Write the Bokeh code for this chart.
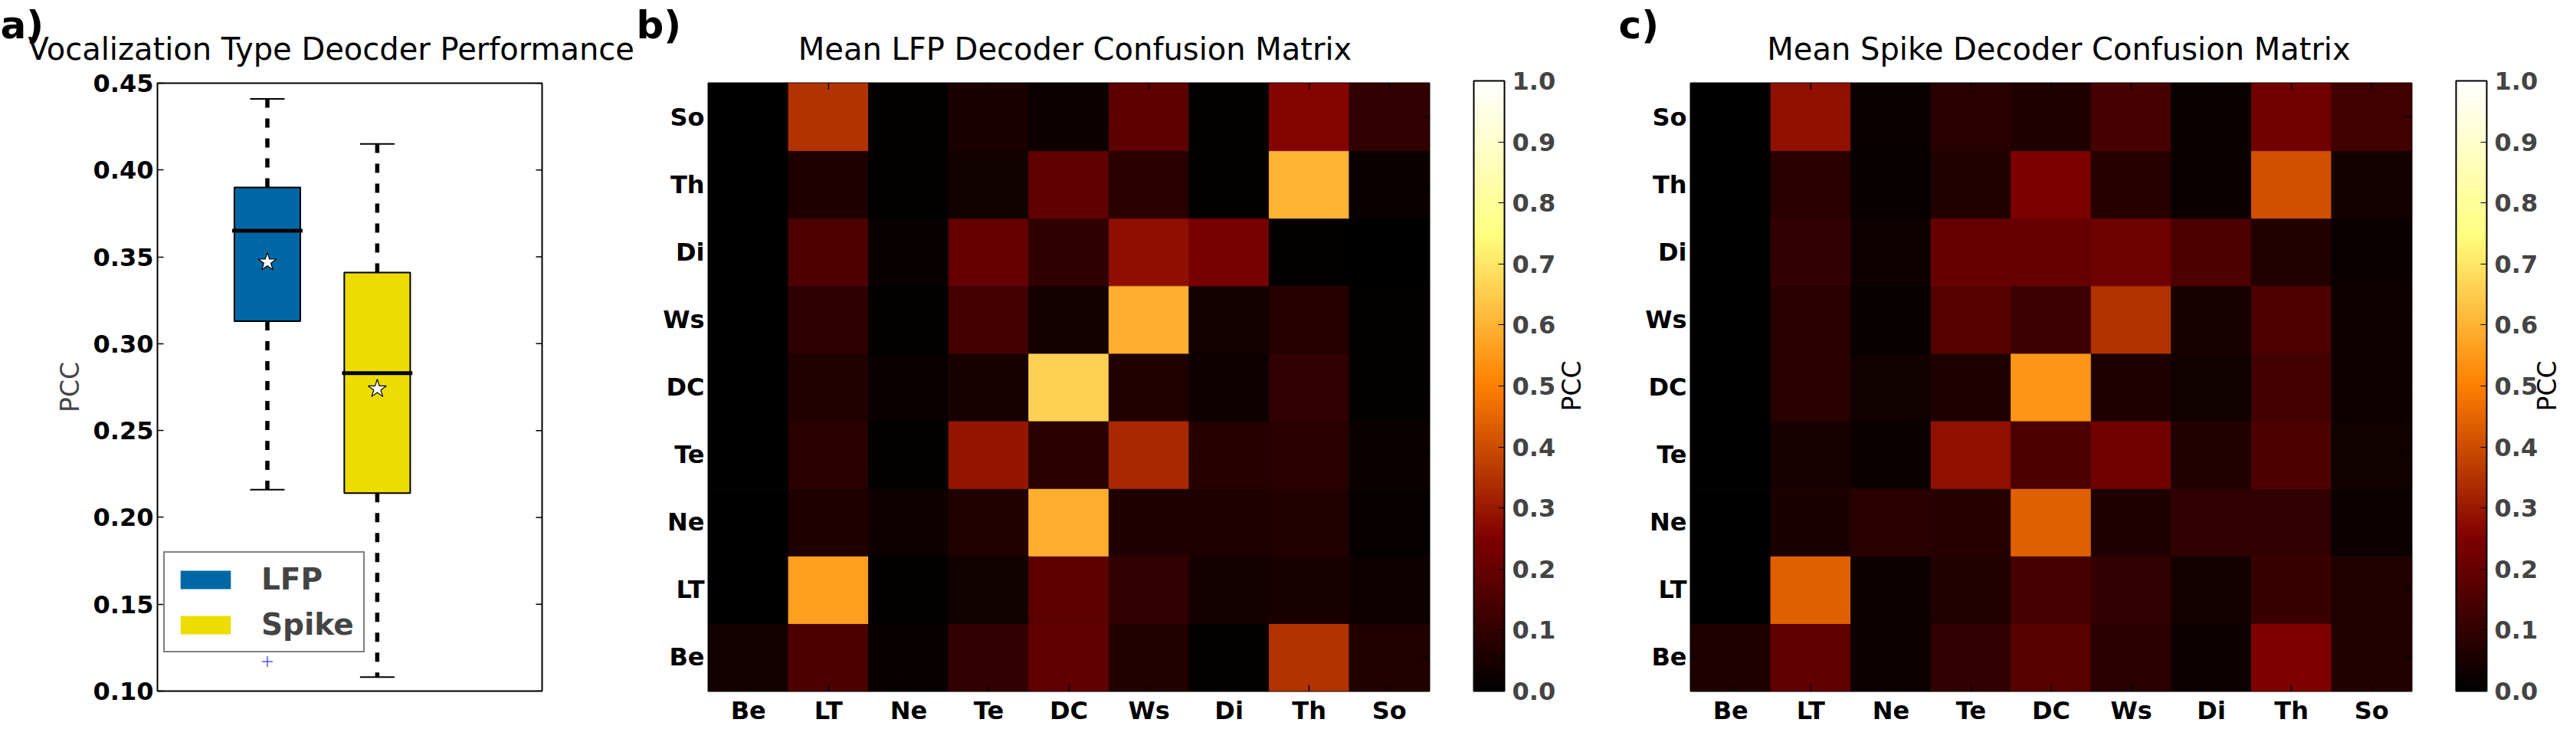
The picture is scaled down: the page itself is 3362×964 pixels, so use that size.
from bokeh.plotting import figure
from bokeh.layouts import row, column
from bokeh.models import (Range1d, FactorRange, FixedTicker, PrintfTickFormatter,
                          ColumnDataSource, ColorBar, LinearColorMapper, Label)
from bokeh.transform import dodge
from bokeh.embed import file_html
from bokeh.resources import INLINE
import math

# ---------------- data ----------------
groups = ["LFP", "Spike"]
positions = [1, 2]
q1 = [0.313, 0.214]
q3 = [0.390, 0.341]
medians = [0.365, 0.283]
means = [0.347, 0.274]
whisker_low = [0.216, 0.108]
whisker_high = [0.441, 0.415]
outlier_x = [1]
outlier_y = [0.117]
box_colors = ["#0067A5", "#EEDC00"]
pcc_ticks = [0.10, 0.15, 0.20, 0.25, 0.30, 0.35, 0.40, 0.45]

call_types = ["Be", "LT", "Ne", "Te", "DC", "Ws", "Di", "Th", "So"]
# rows: true call type; columns: decoded call type (Be ... So)
lfp_Be = [0.04, 0.15, 0.015, 0.10, 0.19, 0.07, 0.01, 0.35, 0.065]
lfp_LT = [0.00, 0.56, 0.01, 0.035, 0.18, 0.10, 0.04, 0.05, 0.03]
lfp_Ne = [0.00, 0.06, 0.03, 0.065, 0.59, 0.06, 0.06, 0.07, 0.015]
lfp_Te = [0.00, 0.08, 0.01, 0.29, 0.08, 0.33, 0.075, 0.08, 0.02]
lfp_DC = [0.00, 0.063, 0.02, 0.05, 0.66, 0.063, 0.03, 0.10, 0.01]
lfp_Ws = [0.00, 0.09, 0.005, 0.13, 0.04, 0.59, 0.04, 0.075, 0.01]
lfp_Di = [0.00, 0.153, 0.016, 0.196, 0.09, 0.28, 0.235, 0.005, 0.00]
lfp_Th = [0.00, 0.06, 0.006, 0.035, 0.19, 0.08, 0.01, 0.60, 0.02]
lfp_So = [0.00, 0.35, 0.01, 0.055, 0.027, 0.18, 0.01, 0.26, 0.10]

spike_Be = [0.06, 0.19, 0.025, 0.10, 0.175, 0.08, 0.025, 0.25, 0.07]
spike_LT = [0.00, 0.44, 0.025, 0.065, 0.14, 0.10, 0.04, 0.115, 0.065]
spike_Ne = [0.00, 0.055, 0.08, 0.075, 0.44, 0.06, 0.095, 0.095, 0.025]
spike_Te = [0.00, 0.05, 0.02, 0.285, 0.15, 0.22, 0.065, 0.15, 0.035]
spike_DC = [0.00, 0.08, 0.035, 0.06, 0.545, 0.06, 0.035, 0.13, 0.03]
spike_Ws = [0.00, 0.08, 0.015, 0.17, 0.12, 0.35, 0.05, 0.155, 0.03]
spike_Di = [0.00, 0.10, 0.03, 0.20, 0.20, 0.215, 0.15, 0.07, 0.02]
spike_Th = [0.00, 0.08, 0.015, 0.065, 0.245, 0.075, 0.02, 0.41, 0.04]
spike_So = [0.00, 0.285, 0.02, 0.08, 0.06, 0.14, 0.02, 0.22, 0.125]

lfp_rows = [lfp_Be, lfp_LT, lfp_Ne, lfp_Te, lfp_DC, lfp_Ws, lfp_Di, lfp_Th, lfp_So]
spike_rows = [spike_Be, spike_LT, spike_Ne, spike_Te, spike_DC, spike_Ws, spike_Di, spike_Th, spike_So]
cbar_ticks = [0.0, 0.1, 0.2, 0.3, 0.4, 0.5, 0.6, 0.7, 0.8, 0.9, 1.0]

title_a = "Vocalization Type Deocder Performance"
title_b = "Mean LFP Decoder Confusion Matrix"
title_c = "Mean Spike Decoder Confusion Matrix"

# ---------------- style / layout ----------------
FONT = "DejaVu Sans"
HEAD = 88            # header strip with titles and panel letters
H = 948 - HEAD       # height of the plot row
TOP, BOT = 20, 44
FH = H - TOP - BOT   # frame height
TICK_PX = "32px"

W_A, L_A, R_A = 810, 205, 103
W_B, L_B, R_B = 1070, 114, 15
W_CB1 = 215
W_C, L_C, R_C = 1067, 111, 15
W_CB2 = 3346 - W_A - W_B - W_CB1 - W_C


def afmhot_palette(n=256):
    pal = []
    for i in range(n):
        t = i / (n - 1)
        r = min(max(2 * t, 0), 1)
        g = min(max(2 * t - 0.5, 0), 1)
        b = min(max(2 * t - 1.0, 0), 1)
        pal.append("#%02x%02x%02x" % (round(r * 255), round(g * 255), round(b * 255)))
    return pal


AFMHOT = afmhot_palette()
mapper = LinearColorMapper(palette=AFMHOT, low=0, high=1)


def style_axis(ax, standoff=5):
    ax.axis_line_color = None
    ax.major_tick_in = 8
    ax.major_tick_out = 0
    ax.major_tick_line_color = "black"
    ax.major_tick_line_width = 1.5
    ax.minor_tick_line_color = None
    ax.major_label_text_font = FONT
    ax.major_label_text_font_style = "bold"
    ax.major_label_text_color = "black"
    ax.major_label_standoff = standoff
    ax.major_label_text_font_size = TICK_PX


def add_text(p, x, y, text, size, bold=False, align="left", angle=0):
    p.add_layout(Label(x=x, y=y, x_units="screen", y_units="screen", text=text,
                       text_font=FONT, text_font_size=size,
                       text_font_style="bold" if bold else "normal",
                       text_align=align,
                       text_baseline="alphabetic" if angle == 0 else "middle",
                       angle=angle, angle_units="deg", text_color="black"))


# ---------------- header (titles, panel letters) ----------------
hd = figure(width=3346, height=HEAD, output_backend="svg", toolbar_location=None,
            x_range=Range1d(0, 3346), y_range=Range1d(0, HEAD),
            x_axis_type=None, y_axis_type=None, min_border=0,
            min_border_left=0, min_border_right=0, min_border_top=0, min_border_bottom=0)
hd.outline_line_color = None
hd.grid.visible = False
fb_left = W_A + L_B
fc_left = W_A + W_B + W_CB1 + L_C
FW = W_B - L_B - R_B
add_text(hd, 36, 25, title_a, "40px")
add_text(hd, fb_left + FW / 2 + 8, 25, title_b, "40px", align="center")
add_text(hd, fc_left + FW / 2 + 10, 25, title_c, "40px", align="center")
add_text(hd, 0, 56, "a)", "50px", bold=True)
add_text(hd, fb_left - 94, 56, "b)", "50px", bold=True)
add_text(hd, fc_left - 94, 56, "c)", "50px", bold=True)

# ---------------- panel a: box plot ----------------
pa = figure(width=W_A, height=H, output_backend="svg", toolbar_location=None,
            x_range=Range1d(0, 3.5), y_range=Range1d(0.10, 0.45),
            min_border_left=L_A, min_border_right=R_A, min_border_top=TOP, min_border_bottom=BOT)
pa.outline_line_color = "black"
pa.outline_line_width = 2
pa.grid.visible = False
pa.xaxis.visible = False
style_axis(pa.yaxis[0])
pa.yaxis.ticker = FixedTicker(ticks=pcc_ticks)
pa.yaxis.formatter = PrintfTickFormatter(format="%.2f")
pa.yaxis.axis_label = "PCC"
pa.yaxis.axis_label_text_font = FONT
pa.yaxis.axis_label_text_font_style = "normal"
pa.yaxis.axis_label_text_font_size = "33px"
pa.yaxis.axis_label_standoff = 8

bsrc = ColumnDataSource(dict(x=positions, q1=q1, q3=q3, med=medians, mean=means,
                             lo=whisker_low, hi=whisker_high, color=box_colors, label=groups))
pa.segment(x0="x", y0="q3", x1="x", y1="hi", source=bsrc, line_color="black", line_width=5.5,
           line_dash="12 14")
pa.segment(x0="x", y0="q1", x1="x", y1="lo", source=bsrc, line_color="black", line_width=5.5,
           line_dash="12 14")
pa.segment(x0=dodge("x", -0.157), y0="hi", x1=dodge("x", 0.157), y1="hi", source=bsrc,
           line_color="black", line_width=2)
pa.segment(x0=dodge("x", -0.157), y0="lo", x1=dodge("x", 0.157), y1="lo", source=bsrc,
           line_color="black", line_width=2)
pa.vbar(x="x", bottom="q1", top="q3", width=0.6, source=bsrc, fill_color="color",
        line_color=None, legend_field="label")
pa.vbar(x="x", bottom="q1", top="q3", width=0.6, source=bsrc, fill_color=None,
        line_color="black", line_width=2)
pa.segment(x0=dodge("x", -0.32), y0="med", x1=dodge("x", 0.32), y1="med", source=bsrc,
           line_color="black", line_width=5)
pa.scatter(x="x", y="mean", source=bsrc, marker="star", size=25, fill_color="white",
           line_color="black", line_width=1.2)
pa.scatter(x=outlier_x, y=outlier_y, marker="cross", size=14, line_color="#5555ff",
           line_width=1.5)
# inward ticks on the right edge of the frame (half of each dash is clipped away)
pa.scatter(x=[pa.x_range.end] * len(pcc_ticks), y=pcc_ticks, marker="dash", size=16,
           line_color="black", line_width=1.5)

lg = pa.legend[0]
lg.location = (8, 50)
lg.border_line_color = "black"
lg.border_line_width = 2
lg.background_fill_color = "white"
lg.padding = 12
lg.spacing = 14
lg.margin = 0
lg.glyph_width = 82
lg.glyph_height = 30
lg.label_standoff = 32
lg.label_text_font = FONT
lg.label_text_font_style = "bold"
lg.label_text_font_size = "39px"


# ---------------- heatmaps ----------------
def heatmap(rows, width, left, right):
    xs, ys, vs = [], [], []
    for rname, vals in zip(call_types, rows):
        for cname, v in zip(call_types, vals):
            xs.append(cname)
            ys.append(rname)
            vs.append(v)
    src = ColumnDataSource(dict(x=xs, y=ys, v=vs))
    p = figure(width=width, height=H, output_backend="svg", toolbar_location=None,
               x_range=FactorRange(factors=call_types), y_range=FactorRange(factors=call_types),
               min_border_left=left, min_border_right=right, min_border_top=TOP,
               min_border_bottom=BOT)
    p.rect(x="x", y="y", width=1, height=1, source=src,
           fill_color={"field": "v", "transform": mapper},
           line_color={"field": "v", "transform": mapper}, line_width=1)
    p.outline_line_color = "black"
    p.outline_line_width = 2
    p.grid.visible = False
    style_axis(p.xaxis[0], standoff=6)
    style_axis(p.yaxis[0], standoff=5)
    # inward ticks on the top and right edges
    edge = ColumnDataSource(dict(c=call_types, last=[call_types[-1]] * len(call_types)))
    p.scatter(x="c", y=dodge("last", 0.5, range=p.y_range), source=edge, marker="dash",
              angle=math.pi / 2, size=16, line_color="black", line_width=1.5)
    p.scatter(x=dodge("last", 0.5, range=p.x_range), y="c", source=edge, marker="dash",
              size=16, line_color="black", line_width=1.5)
    return p


def colorbar_fig(width, label_dx):
    p = figure(width=width, height=H, output_backend="svg", toolbar_location=None,
               x_range=Range1d(0, 1), y_range=Range1d(0, 1),
               x_axis_type=None, y_axis_type=None,
               min_border_left=0, min_border_right=0, min_border_top=TOP, min_border_bottom=BOT)
    p.outline_line_color = None
    p.grid.visible = False
    cb = ColorBar(color_mapper=mapper, ticker=FixedTicker(ticks=cbar_ticks),
                  formatter=PrintfTickFormatter(format="%.1f"),
                  width=40, height=FH, padding=0, margin=0, location=(43, 0),
                  orientation="vertical", major_tick_in=8, major_tick_out=0,
                  major_tick_line_color="black", minor_tick_line_color=None,
                  bar_line_color="black", bar_line_width=2, label_standoff=10,
                  major_label_text_font=FONT, major_label_text_font_style="bold",
                  major_label_text_font_size=TICK_PX, background_fill_color=None,
                  border_line_color=None)
    p.add_layout(cb, "center")
    add_text(p, 43 + label_dx, FH / 2, "PCC", "33px", align="center", angle=90)
    return p


pb = heatmap(lfp_rows, W_B, L_B, R_B)
cbb = colorbar_fig(W_CB1, 128)
pc = heatmap(spike_rows, W_C, L_C, R_C)
cbc = colorbar_fig(W_CB2, 119)

layout = column(hd, row(pa, pb, cbb, pc, cbc))
open("out.html", "w").write(file_html(layout, INLINE))
